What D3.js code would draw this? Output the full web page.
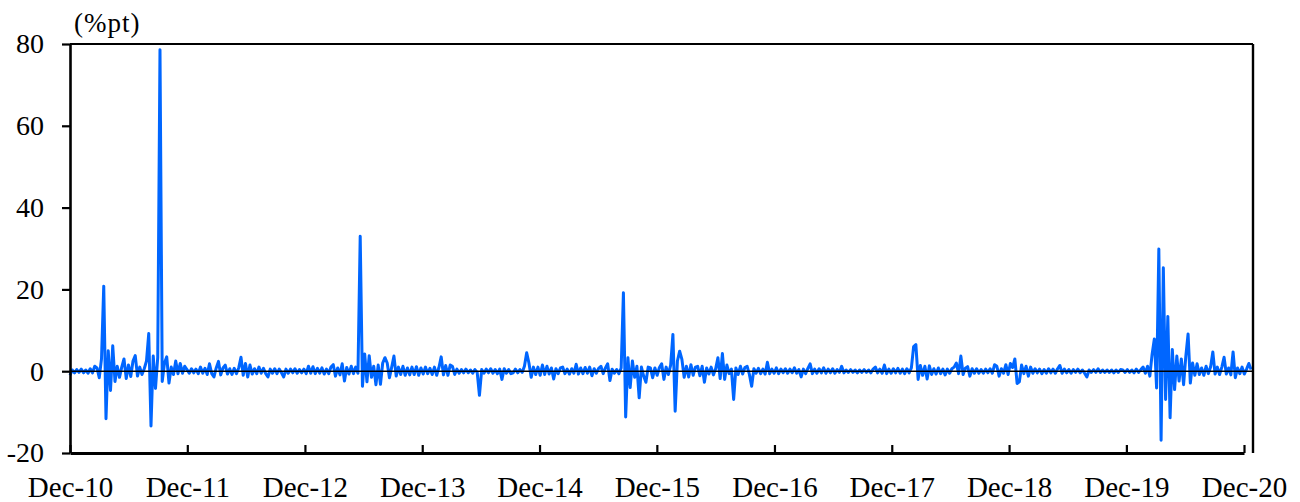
<!DOCTYPE html>
<html>
<head>
<meta charset="utf-8">
<script src="https://cdn.jsdelivr.net/npm/d3@7"></script>
<style>
  body { margin: 0; background: #fff; }
  text { font-family: "Liberation Serif", "Times New Roman", serif; fill: #000; }
</style>
</head>
<body>
<div id="chart"></div>
<script>
// weekly readings (%pt), one array per Dec-to-Dec year
var yr2011 = [-1.0, 0.3, -0.4, 0.4, -0.3, 0.5, -0.4, 0.3, -0.5, 0.6, -0.4, 1.2, 0.8, -1.6, 3.0, 20.8, -11.6, 5.0, -4.7, 6.2, -2.5, 1.2, -1.5, 1.0, 3.0, -1.8, 1.5, -1.3, 2.5, 3.8, -1.2, 1.0, -0.8, 0.6, 2.5, 9.2, -13.4, 3.7, -4.2, 3.4, 78.6, -2.5, 2.0, 3.5, -2.9, 1.0, -0.8, 2.5, -0.6, 1.9, -0.5, 1.2];
var yr2012 = [0.4, -0.5, 0.6, -0.4, 0.5, -0.6, 1.0, -0.5, 0.7, -0.8, 1.8, -0.6, -1.4, 0.8, 2.4, -0.9, 0.8, 1.5, -0.7, 0.6, -0.8, 0.7, -0.6, 0.8, 3.4, -1.0, 1.9, -1.4, 1.5, -0.7, 0.6, -0.6, 1.0, -0.5, 0.7, -0.6, -1.4, 0.5, -0.5, 0.6, -0.6, 0.5, -0.4, -1.4, 0.5, -0.5, 0.5, -0.4, 0.6, -0.5, 0.4, -0.4];
var yr2013 = [0.5, -0.6, 1.2, -0.5, 1.1, -0.6, 0.7, -0.5, 0.8, -0.7, 0.5, -0.6, 1.0, 1.6, -1.2, 0.8, -0.9, 1.8, -2.4, 0.9, -0.7, 1.2, -0.6, 1.0, -0.5, 33.0, -3.7, 4.2, -2.6, 3.8, -1.5, 1.2, -3.3, 1.5, -3.2, 2.0, 3.3, 2.0, -1.6, 1.0, 3.7, -1.2, 1.0, -0.8, 1.2, -1.0, 0.8, -0.9, 1.0, -0.8, 1.1, -1.0];
var yr2014 = [0.8, -0.7, 1.0, -0.6, 0.7, -0.8, 1.0, -1.0, 0.9, 3.5, -0.9, 1.4, -1.0, 1.5, 1.2, -0.8, 0.5, -0.5, 0.4, -0.4, 0.5, -0.4, 0.3, -0.5, 0.4, -0.3, -5.9, 0.4, -0.5, 0.5, -0.4, 0.6, -0.5, 0.4, -0.6, 0.5, -2.0, 0.6, -0.5, 0.4, -0.6, -0.4, 0.5, -0.4, 0.4, -0.3, 1.2, 4.5, 2.0, -1.5, 1.0, -0.8];
var yr2015 = [1.0, -1.0, 1.5, -0.8, 1.2, -0.7, 0.8, -1.9, 0.6, -0.6, 0.8, 1.0, -0.6, 0.5, -0.7, 0.6, -0.5, 1.7, -0.7, 0.8, -0.6, 0.9, -0.5, 1.0, -1.1, 0.6, -0.5, 0.7, 1.2, -0.6, 0.8, 1.8, -2.3, 0.5, -0.5, 0.4, -0.6, 0.8, 19.2, -11.2, 3.3, -4.0, 2.5, -1.5, 1.2, -6.5, 1.0, -1.2, -2.7, 1.0, 0.8, -1.6];
var yr2016 = [0.8, -1.0, 0.9, 1.8, -2.0, 1.0, -0.8, 1.5, 9.0, -9.8, 2.5, 4.9, 2.9, -1.5, 1.2, -1.4, 1.6, -1.0, 1.0, 1.2, -1.1, 1.2, -2.7, 0.8, -0.7, 1.0, -0.9, 0.6, 3.3, -1.8, 4.3, -2.0, 1.5, -0.6, 0.5, -6.9, 0.8, -0.8, 1.2, -0.7, 0.9, 1.2, -0.8, -3.7, 0.6, -0.5, 0.7, -0.6, 0.5, -0.7, 2.2, -0.6];
var yr2017 = [0.5, -0.5, 0.8, -0.6, 0.5, -0.4, 0.6, -0.5, 0.5, -0.4, 0.8, -0.5, 0.4, -1.4, 0.5, -0.6, 0.7, 1.8, -0.6, 0.5, -0.5, 0.6, -0.4, 0.8, -0.5, 0.5, -0.4, 0.6, -0.5, 0.4, -0.3, 1.2, -0.4, 0.3, -0.3, 0.4, -0.3, 0.3, -0.4, 0.3, -0.3, 0.4, -0.3, 0.3, -0.4, 0.5, 1.0, -0.4, 0.5, -0.5, 1.5, -0.6];
var yr2018 = [0.5, -0.5, 0.6, -0.4, 0.7, -0.5, 0.5, -0.6, 0.6, -0.4, 0.8, 6.0, 6.5, -2.0, 1.4, -1.0, 1.2, -1.9, 1.3, -0.8, 0.6, -0.7, 0.8, -0.6, 0.5, -0.9, 0.5, -0.5, 0.6, 1.0, 2.0, -0.6, 3.7, -0.8, 0.7, 1.1, -1.2, 0.6, -0.5, 0.6, -0.5, 0.4, -0.5, 0.5, -0.4, 0.6, -0.5, 1.6, 1.2, -1.2, 0.6, -0.5];
var yr2019 = [1.6, -0.8, 1.9, 0.9, 3.0, -3.0, -2.6, 1.5, -0.6, 1.2, -1.2, 1.0, -0.5, 0.6, -0.4, 0.5, -0.6, 0.4, -0.5, 0.6, -0.4, 0.5, -0.5, 0.6, 1.4, -0.5, 0.5, -0.4, 0.4, -0.5, 0.4, -0.3, 0.5, -0.4, 0.3, -0.5, -1.4, 0.3, -0.3, 0.4, -0.3, 0.6, -0.3, 0.3, -0.3, 0.3, -0.3, 0.3, -0.4, 0.3, -0.3, 0.4];
var yr2020 = [0.3, -0.3, 0.4, -0.3, 0.3, -0.4, 0.5, -0.3, 0.4, 1.0, -0.5, 1.2, -1.2, 4.1, 7.9, -4.1, 29.9, -16.9, 25.3, -6.9, 13.4, -11.4, 5.3, -4.5, 3.7, -2.4, 3.0, -3.3, 3.7, 9.1, -2.9, 2.0, -1.0, 1.8, -0.8, 0.8, -1.0, 1.2, -0.6, 1.0, 4.7, -0.7, 1.0, -0.8, 1.0, 3.4, -0.7, 0.8, -0.9, 4.7, -1.6, 0.8];
var yr2021 = [-0.6, 1.0, -0.7, 0.5, 1.9, 0.4];

var yTicks = [-20, 0, 20, 40, 60, 80];
var tickYears = [2010, 2011, 2012, 2013, 2014, 2015, 2016, 2017, 2018, 2019, 2020];
var unitLabel = "(%pt)";

var values = [].concat(yr2011, yr2012, yr2013, yr2014, yr2015, yr2016, yr2017, yr2018, yr2019, yr2020, yr2021);
var start = new Date(2010, 11, 1);
var data = values.map(function(v, i) {
  return {date: d3.timeDay.offset(start, i * 7), value: v};
});

var W = 1300, H = 502;
var plotL = 70, plotR = 1253, plotT = 44, plotB = 453;

var svg = d3.select("#chart")
  .append("svg")
    .attr("width", W)
    .attr("height", H);

var x = d3.scaleTime()
  .domain([new Date(2010, 11, 1), new Date(2020, 11, 1)])
  .range([plotL, 1244]);

var y = d3.scaleLinear()
  .domain([-20, 80])
  .range([plotB, plotT]);

// series
var line = d3.line()
  .x(function(d) { return x(d.date); })
  .y(function(d) { return y(d.value); });

svg.append("path")
  .datum(data)
  .attr("d", line)
  .attr("fill", "none")
  .attr("stroke", "#0066ff")
  .attr("stroke-width", 3)
  .attr("stroke-linejoin", "round");

// zero line on top of the series
svg.append("line")
  .attr("x1", plotL).attr("x2", plotR)
  .attr("y1", y(0)).attr("y2", y(0))
  .attr("stroke", "#000")
  .attr("stroke-width", 1.6);

// frame
svg.append("line")
  .attr("x1", plotL).attr("x2", plotR)
  .attr("y1", plotT).attr("y2", plotT)
  .attr("stroke", "#000").attr("stroke-width", 2.2);
svg.append("line")
  .attr("x1", plotR).attr("x2", plotR)
  .attr("y1", plotT).attr("y2", plotB)
  .attr("stroke", "#000").attr("stroke-width", 2.4);

// y axis (plain hyphen for negatives, as in the source)
var yAxis = svg.append("g")
  .attr("transform", "translate(" + plotL + ",0)")
  .call(d3.axisLeft(y).tickValues(yTicks).tickSize(8).tickSizeOuter(0).tickPadding(18)
    .tickFormat(function(d) { return String(d); }));
yAxis.select(".domain").attr("stroke-width", 2.6);
yAxis.selectAll(".tick line").attr("stroke-width", 2.2);
yAxis.selectAll(".tick text")
  .style("font-size", "28px")
  .style("font-family", "'Liberation Serif', 'Times New Roman', serif");

// x axis
var xAxis = svg.append("g")
  .attr("transform", "translate(0," + plotB + ")")
  .call(d3.axisBottom(x)
    .tickValues(tickYears.map(function(yr) { return new Date(yr, 11, 1); }))
    .tickSize(-8).tickSizeOuter(0).tickPadding(23)
    .tickFormat(d3.timeFormat("%b-%y")));
xAxis.select(".domain").attr("stroke-width", 3);
xAxis.selectAll(".tick line").attr("stroke-width", 2.2);
xAxis.selectAll(".tick text")
  .style("font-size", "29px")
  .style("font-family", "'Liberation Serif', 'Times New Roman', serif");

// unit label
svg.append("text")
  .attr("x", 74)
  .attr("y", 32)
  .style("font-size", "27px")
  .style("letter-spacing", "1px")
  .text(unitLabel);
</script>
</body>
</html>
